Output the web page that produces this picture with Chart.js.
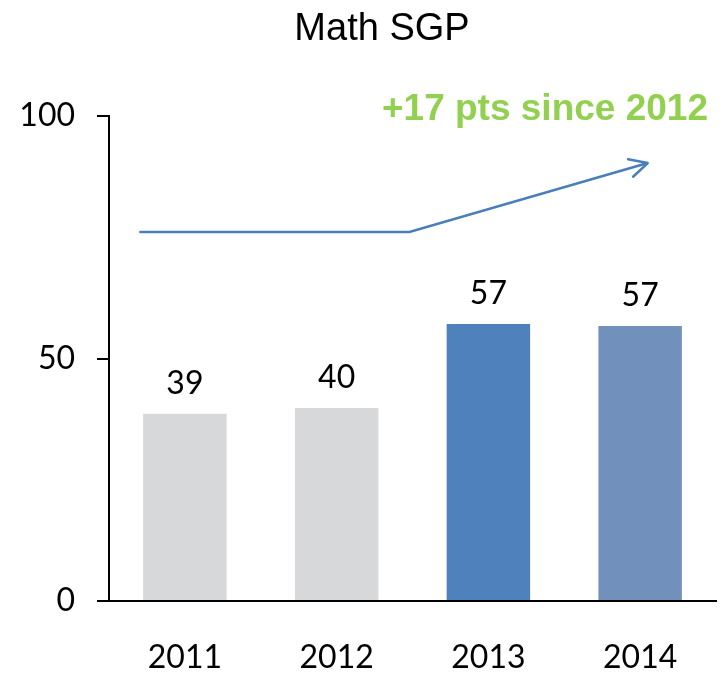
<!DOCTYPE html>
<html><head><meta charset="utf-8">
<script src="https://cdn.jsdelivr.net/npm/chart.js@4/dist/chart.umd.min.js"></script>
<style>html,body{margin:0;padding:0;background:#fff}#wrap{width:728px;height:674px}</style>
</head><body><div id="wrap"><canvas id="c" width="728" height="674"></canvas></div>
<script>
const years = ['2011', '2012', '2013', '2014'];
const sgp = [38.6, 39.8, 57.1, 56.7];
const sgpLabels = ['39', '40', '57', '57'];
const barColors = ['#d7d8da', '#d7d8da', '#4f81bd', '#7190bb'];
const yTicks = [0, 50, 100];
const arrowX = [-0.30, 1.48, 3.05];
const arrowY = [76.1, 76.1, 90.3];
const titleText = 'Math SGP';
const noteText = '+17 pts since 2012';

const numFont = 'Lato';

const decor = {
  id: 'decor',
  afterDatasetsDraw(chart) {
    const ctx = chart.ctx;
    const ca = chart.chartArea;
    ctx.save();
    // value labels
    const bm = chart.getDatasetMeta(0);
    ctx.fillStyle = '#000';
    ctx.font = '32px ' + numFont;
    ctx.textAlign = 'center';
    ctx.textBaseline = 'alphabetic';
    bm.data.forEach((el, i) => {
      ctx.fillText(sgpLabels[i], el.x, el.y - 20);
    });
    // arrowhead
    const lm = chart.getDatasetMeta(1);
    const pts = lm.data;
    const p1 = pts[pts.length - 2], p2 = pts[pts.length - 1];
    const ang = Math.atan2(p2.y - p1.y, p2.x - p1.x);
    const len = 20, spread = 27 * Math.PI / 180;
    ctx.strokeStyle = '#4a7ebb';
    ctx.lineWidth = 2.5;
    ctx.lineCap = 'round';
    ctx.lineJoin = 'round';
    ctx.beginPath();
    ctx.moveTo(p2.x - len * Math.cos(ang - spread), p2.y - len * Math.sin(ang - spread));
    ctx.lineTo(p2.x, p2.y);
    ctx.lineTo(p2.x - len * Math.cos(ang + spread), p2.y - len * Math.sin(ang + spread));
    ctx.stroke();
    // note text
    ctx.fillStyle = '#92d050';
    ctx.font = 'bold 37px "Liberation Sans", Arial, sans-serif';
    ctx.textAlign = 'right';
    ctx.textBaseline = 'alphabetic';
    ctx.fillText(noteText, ca.right - 8, chart.scales.y.getPixelForValue(100) + 4);
    // title
    ctx.fillStyle = '#000';
    ctx.font = '38px "Liberation Sans", Arial, sans-serif';
    ctx.textAlign = 'center';
    ctx.fillText(titleText, 382, 40);
    ctx.restore();
  }
};

new Chart(document.getElementById('c'), {
  type: 'bar',
  data: {
    labels: years,
    datasets: [
      {
        data: sgp,
        backgroundColor: barColors,
        borderWidth: 0,
        barPercentage: 0.55,
        categoryPercentage: 1,
        grouped: false,
        xAxisID: 'x',
        order: 2
      },
      {
        type: 'line',
        data: arrowX.map((x, i) => ({ x: x, y: arrowY[i] })),
        xAxisID: 'x2',
        borderColor: '#4a7ebb',
        borderWidth: 2.5,
        pointRadius: 0,
        fill: false,
        tension: 0,
        order: 1
      }
    ]
  },
  options: {
    responsive: false,
    devicePixelRatio: 1,
    animation: false,
    layout: { padding: { top: 116, right: 12, left: 0, bottom: 0 } },
    plugins: { legend: { display: false }, title: { display: false }, tooltip: { enabled: false } },
    scales: {
      x: {
        type: 'category',
        grid: { display: false },
        border: { display: true, color: '#000', width: 2 },
        ticks: { color: '#000', font: { family: numFont, size: 32 }, padding: 29 },
        afterFit: s => { s.height = 73; }
      },
      x2: {
        type: 'linear',
        display: false,
        offset: false,
        grid: { offset: false },
        min: -0.5,
        max: 3.5
      },
      y: {
        min: 0,
        max: 100,
        afterBuildTicks: s => { s.ticks = yTicks.map(v => ({ value: v })); },
        grid: { drawOnChartArea: false, drawTicks: true, tickLength: 12, color: '#000', lineWidth: 2 },
        border: { display: true, color: '#000', width: 2 },
        ticks: { color: '#000', font: { family: numFont, size: 32 }, padding: 22 },
        afterFit: s => { s.width = 109; }
      }
    }
  },
  plugins: [decor]
});
</script>
</body></html>
